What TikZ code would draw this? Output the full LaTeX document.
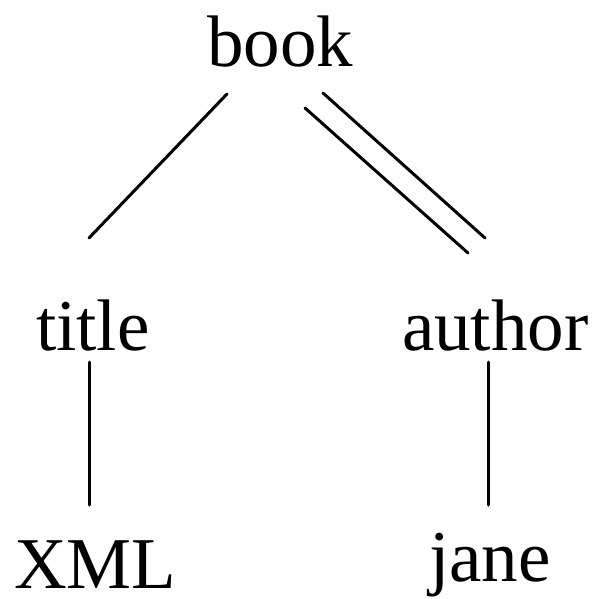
\documentclass[tikz,border=0pt]{standalone}
\usepackage{fontspec}
\setmainfont{Liberation Serif}
\begin{document}
\begin{tikzpicture}[x=1pt,y=-1pt,
  lbl/.style={anchor=base west,inner sep=0pt,outer sep=0pt,font=\fontsize{73}{80}\selectfont},
  edge/.style={line width=3pt,line cap=round,black}]
\useasboundingbox (0,0) rectangle (594,599);
\node[lbl] (book) at (207,67) {book};
\node[lbl] (title) at (36,350) {title};
\node[lbl] (author) at (402,350) {author};
\node[lbl] (xml) at (14,588) {XML};
\node[lbl] (jane) at (429,581) {jane};
% connector end points
\coordinate (bt1) at (227,94);
\coordinate (bt2) at (89,238);
\coordinate (ba1) at (323,93);
\coordinate (ba2) at (485,238);
\coordinate (ba3) at (305,108);
\coordinate (ba4) at (468,253);
\coordinate (tx1) at (89,362);
\coordinate (tx2) at (89,505);
\coordinate (aj1) at (488,362);
\coordinate (aj2) at (488,505);
\draw[edge] (bt1) -- (bt2);
\draw[edge] (ba1) -- (ba2);
\draw[edge] (ba3) -- (ba4);
\draw[edge] (tx1) -- (tx2);
\draw[edge] (aj1) -- (aj2);
\end{tikzpicture}
\end{document}
